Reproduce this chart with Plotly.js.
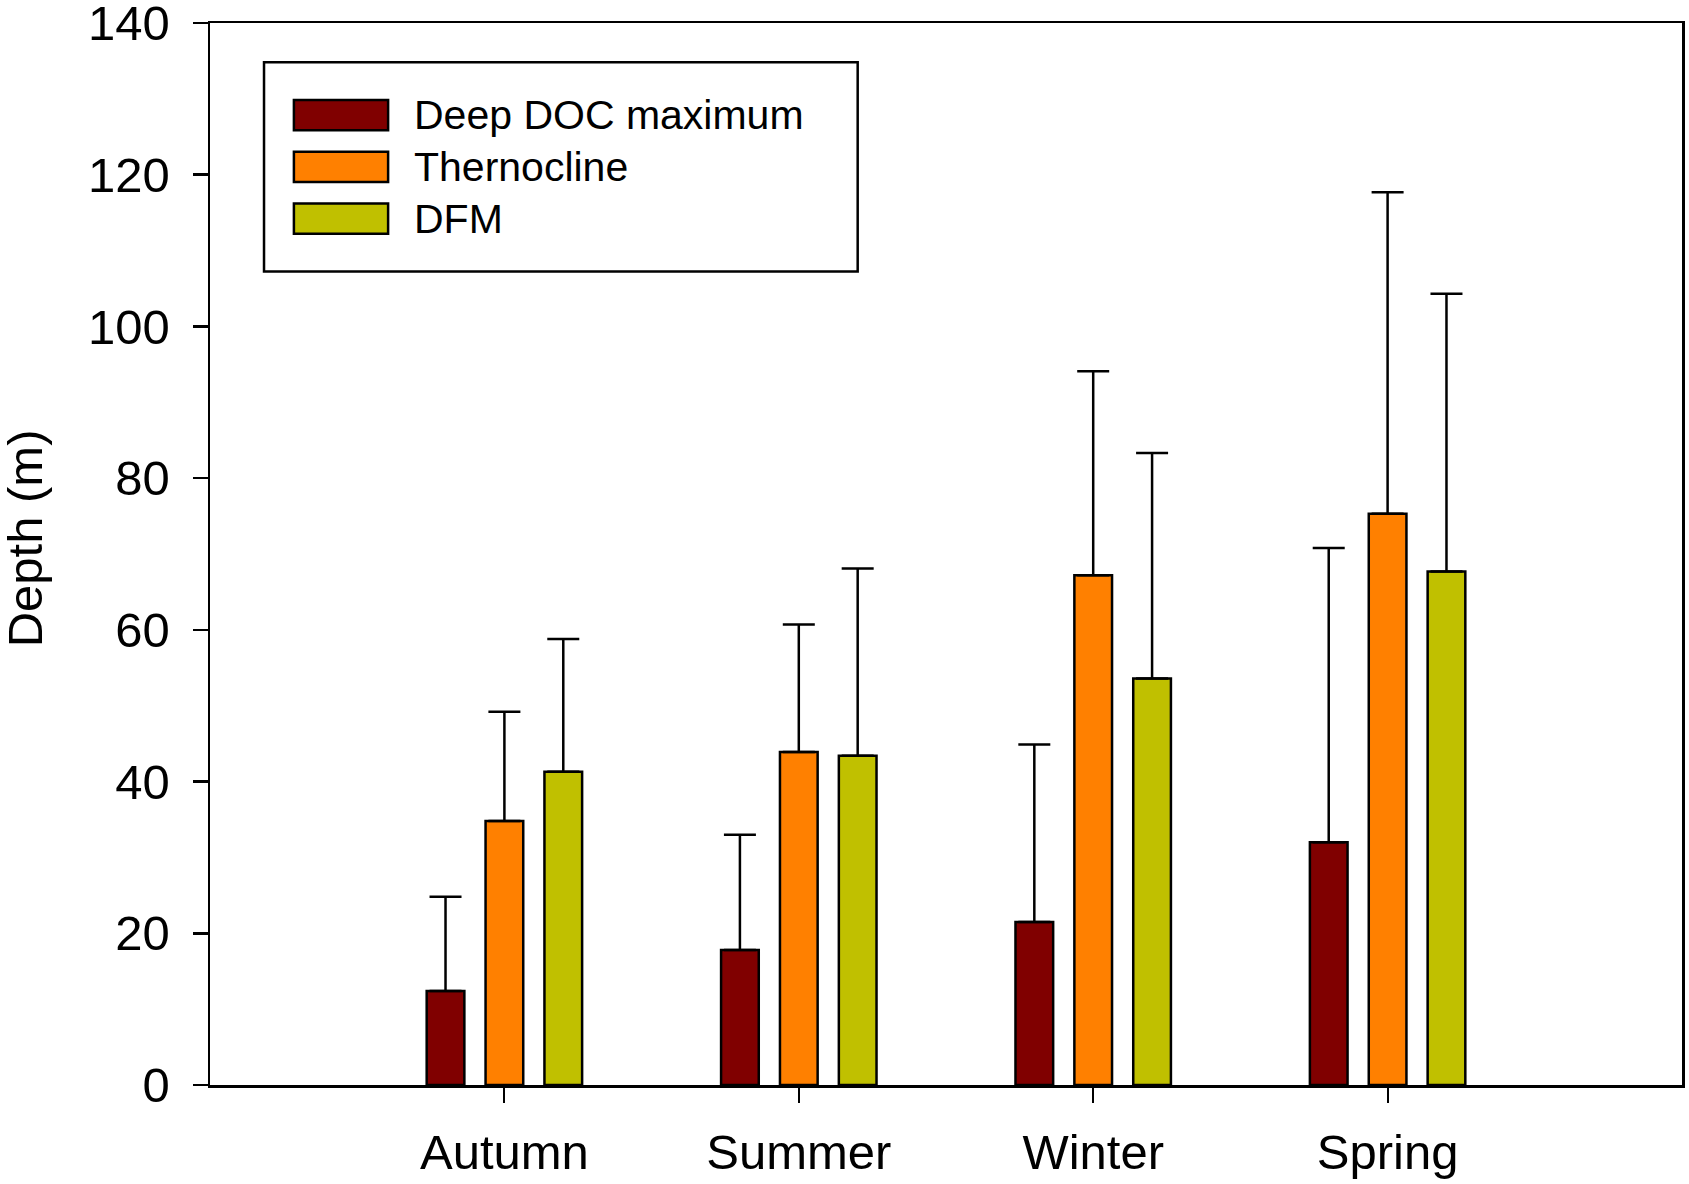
<!DOCTYPE html>
<html>
<head>
<meta charset="utf-8">
<script src="https://cdn.plot.ly/plotly-3.0.1.min.js"></script>
<style>
  html, body { margin: 0; padding: 0; background: #fff; }
  #chart { width: 1689px; height: 1184px; }
</style>
</head>
<body>
<div id="chart"></div>
<script>
  // ---------- Data ----------
  const seasons = ["Autumn", "Summer", "Winter", "Spring"];
  const seriesNames = ["Deep DOC maximum", "Thernocline", "DFM"];
  const seriesColors = ["#800000", "#ff8000", "#c0c000"];

  const docMax = [12.4, 17.8, 21.5, 32.0];
  const docMaxErr = [12.4, 15.2, 23.4, 38.8];

  const thermocline = [34.8, 43.9, 67.2, 75.3];
  const thermoclineErr = [14.4, 16.8, 26.9, 42.4];

  const dfm = [41.3, 43.4, 53.6, 67.7];
  const dfmErr = [17.5, 24.7, 29.7, 36.6];

  const values = [docMax, thermocline, dfm];
  const errors = [docMaxErr, thermoclineErr, dfmErr];

  const FONT = "Arial, 'Liberation Sans', Helvetica, sans-serif";

  const traces = seriesNames.map((name, i) => ({
    type: "bar",
    name: name,
    x: seasons,
    y: values[i],
    marker: { color: seriesColors[i], line: { color: "#000", width: 2.5 } },
    error_y: {
      type: "data",
      symmetric: false,
      array: errors[i],
      arrayminus: errors[i].map(() => 0),
      color: "#000",
      thickness: 2.5,
      width: 16,
    },
  }));

  // ---------- Hand-drawn legend box (SigmaPlot-style large swatches) ----------
  const legX0 = 0.0367, legX1 = 0.440, legY0 = 0.766, legY1 = 0.963;
  const swX0 = 0.057, swX1 = 0.121;
  const rowY = [0.9132, 0.8645, 0.8158];
  const swH = 0.0142;

  const shapes = [{
    type: "rect", xref: "paper", yref: "paper",
    x0: legX0, x1: legX1, y0: legY0, y1: legY1,
    line: { color: "#000", width: 2.5 }, fillcolor: "#fff",
  }];
  const annotations = [];
  seriesNames.forEach((name, i) => {
    shapes.push({
      type: "rect", xref: "paper", yref: "paper",
      x0: swX0, x1: swX1, y0: rowY[i] - swH, y1: rowY[i] + swH,
      line: { color: "#000", width: 2.5 }, fillcolor: seriesColors[i],
    });
    annotations.push({
      xref: "paper", yref: "paper",
      x: 0.137, y: rowY[i], xanchor: "left", yanchor: "middle",
      text: name, showarrow: false,
      font: { family: FONT, size: 41, color: "#000" },
    });
  });

  // y-axis title placed as a rotated annotation so it sits where the original does
  annotations.push({
    xref: "paper", yref: "paper",
    x: -0.1255, y: 0.515, xanchor: "center", yanchor: "middle",
    text: "Depth (m)", textangle: -90, showarrow: false,
    font: { family: FONT, size: 49, color: "#000" },
  });

  const layout = {
    width: 1689,
    height: 1184,
    paper_bgcolor: "#fff",
    plot_bgcolor: "#fff",
    margin: { l: 210, r: 7, t: 23, b: 99 },
    font: { family: FONT, color: "#000", size: 49 },
    showlegend: false,
    barmode: "group",
    bargap: 0.40,
    bargroupgap: 0.36,
    xaxis: {
      type: "category",
      range: [-1, 4],
      showline: true, linecolor: "#000", linewidth: 2.5, mirror: true,
      ticks: "outside", ticklen: 15, tickwidth: 2, tickcolor: "#000",
      ticklabelstandoff: 8,
      ticklabeloverflow: "allow",
      showgrid: false, zeroline: false,
      tickfont: { family: FONT, size: 49, color: "#000" },
    },
    yaxis: {
      range: [0, 140],
      dtick: 20,
      showline: true, linecolor: "#000", linewidth: 2.5, mirror: true,
      ticks: "outside", ticklen: 15, tickwidth: 2.5, tickcolor: "#000",
      ticklabelstandoff: 13,
      ticklabeloverflow: "allow",
      showgrid: false, zeroline: false,
      tickfont: { family: FONT, size: 49, color: "#000" },
    },
    shapes: shapes,
    annotations: annotations,
  };

  Plotly.newPlot("chart", traces, layout, { displayModeBar: false, staticPlot: true });
</script>
</body>
</html>
